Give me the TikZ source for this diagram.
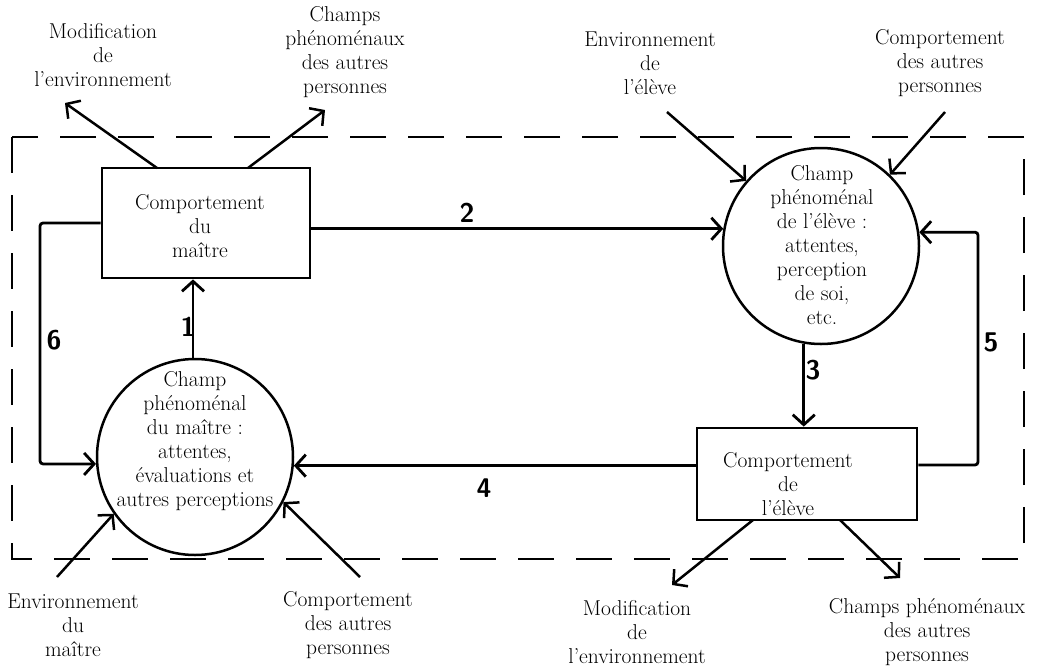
\documentclass[tikz,border=0pt]{standalone}
\usepackage{fontspec}
\usetikzlibrary{arrows.meta}
\begin{document}
\begin{tikzpicture}[x=1pt,y=-1pt,
  lbl/.style={align=center, font=\fontsize{21.5}{24}\selectfont, inner sep=0pt},
  boxnode/.style={draw, line width=2.8pt, rectangle, inner sep=0pt},
  circ/.style={draw, line width=2.5pt, circle, minimum size=196pt, inner sep=0pt},
  conn/.style={line width=2.8pt, -{Straight Barb[length=10pt,width=22pt]}},
  ext/.style={line width=2.5pt, -{Straight Barb[length=10pt,width=22pt]}},
  num/.style={font=\fontsize{27}{27}\sffamily\bfseries\selectfont, inner sep=0pt},
  frame/.style={line width=2pt, dash pattern=on 36pt off 22pt}
]
\useasboundingbox (0,0) rectangle (1039,670);

% frame
\draw[frame] (12,137) rectangle (1024,559);

% main shapes
\node[boxnode, minimum width=208pt, minimum height=110pt] (b1) at (206,223) {};
\node[boxnode, minimum width=220pt, minimum height=92pt] (b2) at (807,474) {};
\node[circ] (c1) at (195,457) {};
\node[circ] (c2) at (821,246) {};

% texts inside
\node[lbl] (t1) at (200,226) {Comportement\\du\\maître};
\node[lbl] (t2) at (788,484) {Comportement\\de\\l'élève};
\node[lbl] (tc1) at (195,441) {Champ\\phénoménal\\du maître :\\attentes,\\évaluations et\\autres perceptions};
\node[lbl] (tc2) at (822,245) {Champ\\phénoménal\\de l'élève :\\attentes,\\perception\\de soi,\\etc.};

% outside labels
\node[lbl] (l1) at (103,55) {Modification\\de\\l'environnement};
\node[lbl] (l2) at (345,52) {Champs\\phénoménaux\\des autres\\personnes};
\node[lbl] (l3) at (650,63) {Environnement\\de\\l'élève};
\node[lbl] (l4) at (940,63) {Comportement\\des autres\\personnes};
\node[lbl] (l5) at (73,625) {Environnement\\du\\maître};
\node[lbl] (l6) at (348,625) {Comportement\\des autres\\personnes};
\node[lbl] (l7) at (637,632) {Modification\\de\\l'environnement};
\node[lbl] (l8) at (927,632) {Champs phénoménaux\\des autres\\personnes};

% connector coordinates
\coordinate (k6) at (40,223);
\coordinate (k5) at (978,465);
\coordinate (e1s) at (157,168);
\coordinate (e1e) at (65,103);
\coordinate (e2s) at (248,168);
\coordinate (e2e) at (325,110);
\coordinate (e3s) at (667,112);
\coordinate (e4s) at (945,112);
\coordinate (e5s) at (57,577);
\coordinate (e6s) at (360,577);
\coordinate (e7s) at (753,520);
\coordinate (e7e) at (672,585);
\coordinate (e8s) at (840,520);
\coordinate (e8e) at (900,578);

% numbered connectors
\draw[conn] (c1.north -| 193,0) -- (b1.south -| 193,0);
\draw[conn] (b1.east |- c2.170) -- (c2.170);
\draw[conn] (c2.260) -- (c2.260 |- b2.north);
\draw[conn] (b2.west |- c1.-5) -- (c1.-5);
\draw[conn, rounded corners=3pt] (b2.east |- k5) -- (k5) |- (c2.8);
\draw[conn, rounded corners=3pt] (b1.west) -- (k6) |- (c1.184);

\node[num] (n1) at (188,327) {1};
\node[num] (n2) at (467,213) {2};
\node[num] (n3) at (813,370) {3};
\node[num] (n4) at (484,488) {4};
\node[num] (n5) at (991,342) {5};
\node[num] (n6) at (54,340) {6};

% external arrows
\draw[ext] (e1s) -- (e1e);
\draw[ext] (e2s) -- (e2e);
\draw[ext] (e3s) -- (c2.139);
\draw[ext] (e4s) -- (c2.46);
\draw[ext] (e5s) -- (c1.215);
\draw[ext] (e6s) -- (c1.-27);
\draw[ext] (e7s) -- (e7e);
\draw[ext] (e8s) -- (e8e);
\end{tikzpicture}
\end{document}
